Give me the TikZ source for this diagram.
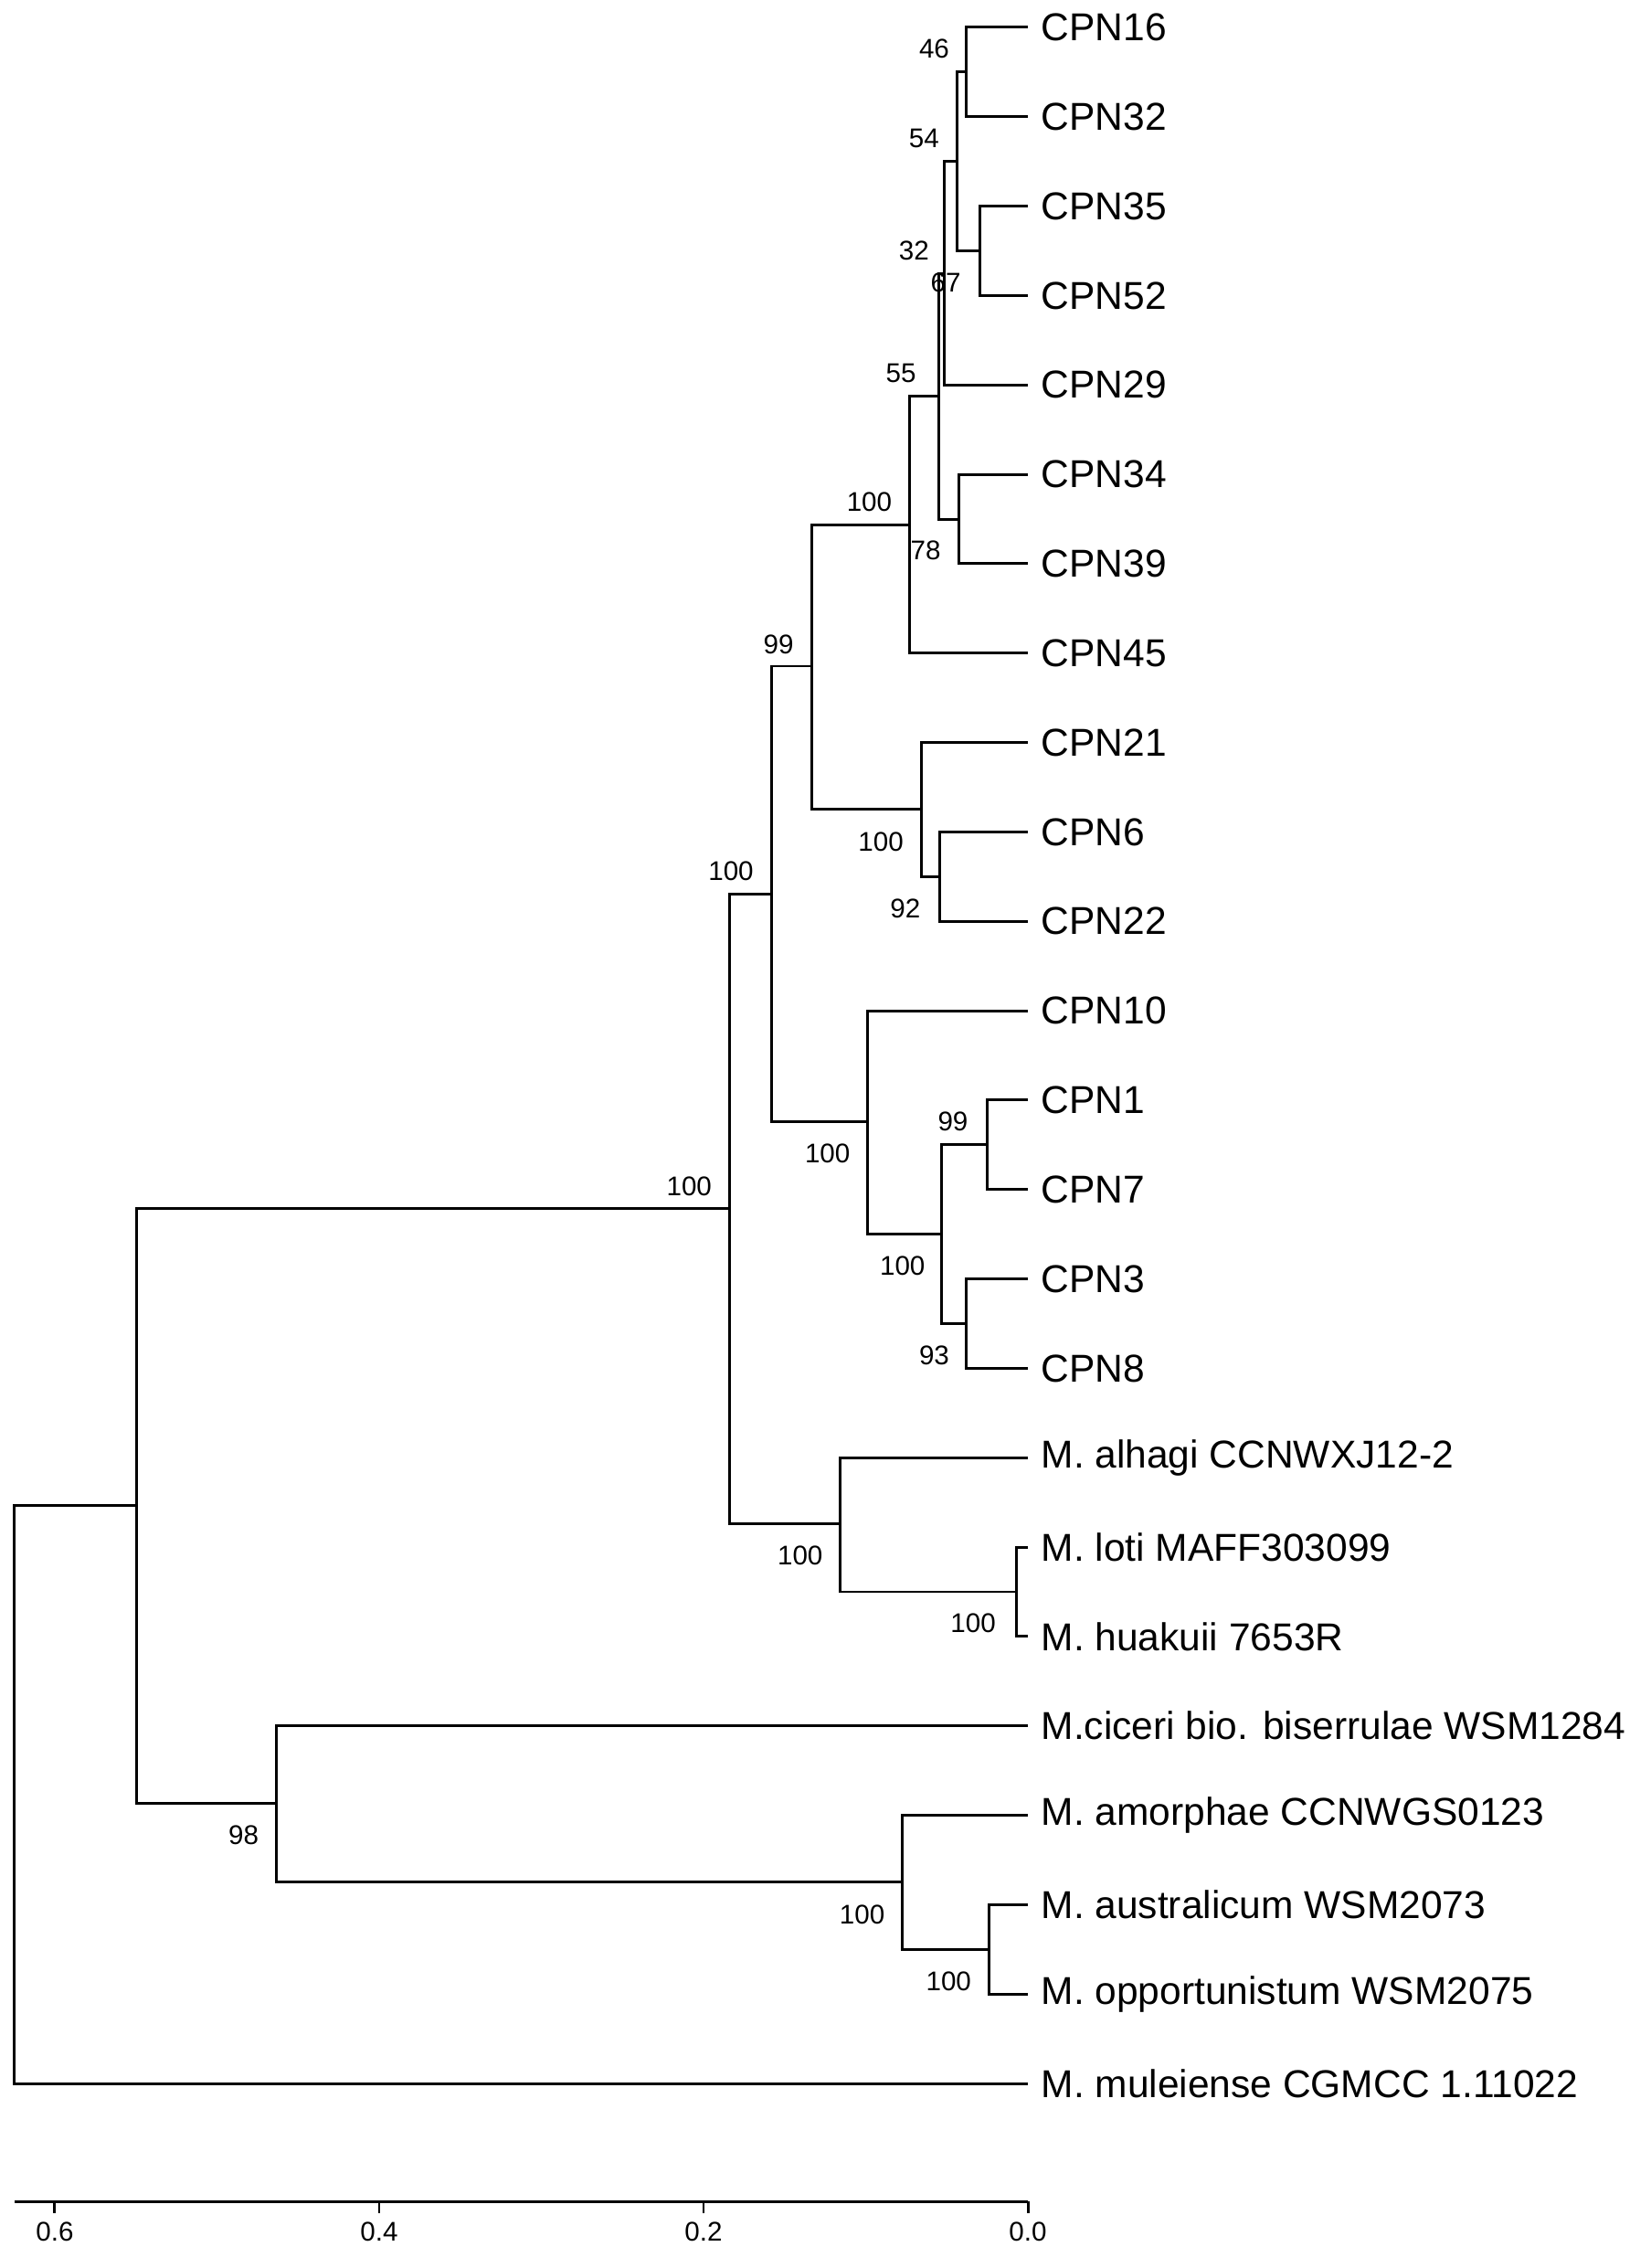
\documentclass[tikz,border=0pt]{standalone}
\usepackage{fontspec}
\setmainfont{Liberation Sans}
\begin{document}
\begin{tikzpicture}[x=0.03cm,y=-0.03cm,
  br/.style={line width=1.6pt},
  leaf/.style={anchor=west,inner sep=0pt,font=\fontsize{23}{26}\selectfont},
  bs/.style={inner sep=0pt,font=\fontsize{16}{19}\selectfont},
  ax/.style={inner sep=0pt,font=\fontsize{16}{19}\selectfont}]
\useasboundingbox (0,0) rectangle (1145,1573);
% leaves
\foreach \n/\y/\t in {l1/19/CPN16,l2/81/CPN32,l3/143/CPN35,l4/205/CPN52,l5/267/CPN29,l6/329/CPN34,l7/391/CPN39,l8/453/CPN45,l9/515/CPN21,l10/577/CPN6,l11/639/CPN22,l12/701/CPN10,l13/763/CPN1,l14/825/CPN7,l15/887/CPN3,l16/949/CPN8,l17/1011/{M. alhagi CCNWXJ12-2},l18/1073/{M. loti MAFF303099},l19/1135/{M. huakuii 7653R},l20/1197/{M.ciceri bio. biserrulae WSM1284},l21/1259/{M. amorphae CCNWGS0123},l22/1321/{M. australicum WSM2073},l23/1383/{M. opportunistum WSM2075},l24/1445/{M. muleiense CGMCC 1.11022}}{
  \coordinate (\n) at (713,\y);
  \node[leaf] (t\n) at (722,\y) {\t};
}
% internal nodes
\coordinate (a46) at (670,50);
\coordinate (a67) at (680,174);
\coordinate (a54) at (664,112);
\coordinate (a32) at (655,190);
\coordinate (a78) at (665,360);
\coordinate (a55) at (651,275);
\coordinate (a100a) at (631,364);
\coordinate (a92) at (652,608);
\coordinate (a100b) at (639,561);
\coordinate (a99) at (563,462);
\coordinate (a99b) at (685,794);
\coordinate (a93) at (670,918);
\coordinate (a100c) at (653,856);
\coordinate (a100d) at (602,778);
\coordinate (a100e) at (535,620);
\coordinate (a100f) at (705,1104);
\coordinate (a100g) at (583,1057);
\coordinate (a100h) at (506,838);
\coordinate (a100i) at (686,1352);
\coordinate (a100j) at (626,1305);
\coordinate (a98) at (192,1251);
\coordinate (r2) at (95,1044);
\coordinate (r) at (10,1245);
\foreach \p/\a/\b in {a46/l1/l2,a67/l3/l4,a54/a46/a67,a32/a54/l5,a78/l6/l7,a55/a32/a78,a100a/a55/l8,a92/l10/l11,a100b/l9/a92,a99/a100a/a100b,a99b/l13/l14,a93/l15/l16,a100c/a99b/a93,a100d/l12/a100c,a100e/a99/a100d,a100f/l18/l19,a100g/l17/a100f,a100h/a100e/a100g,a100i/l22/l23,a100j/l21/a100i,a98/l20/a100j,r2/a100h/a98,r/r2/l24}{
  \draw[br] (\a) -| (\p) |- (\b);
}
% bootstrap labels
\foreach \x/\y/\t in {648/34/46,641/96/54,634/174/32,656/196/67,625/259/55,642/382/78,603/348/100,540/447/99,611/584/100,628/630/92,661/778/99,574/800/100,626/878/100,648/940/93,507/604/100,478/823/100,555/1079/100,675/1126/100,598/1328/100,658/1374/100,169/1273/98}{
  \node[bs] at (\x,\y) {\t};
}
% scale axis
\coordinate (x0) at (10,1527);
\coordinate (x1) at (713,1527);
\draw[br] (x0) -- (x1);
\foreach \x/\t in {38/0.6,263/0.4,488/0.2,713/0.0}{
  \draw[br] (\x,1527) -- (\x,1535);
  \node[ax] at (\x,1548) {\t};
}
\end{tikzpicture}
\end{document}
